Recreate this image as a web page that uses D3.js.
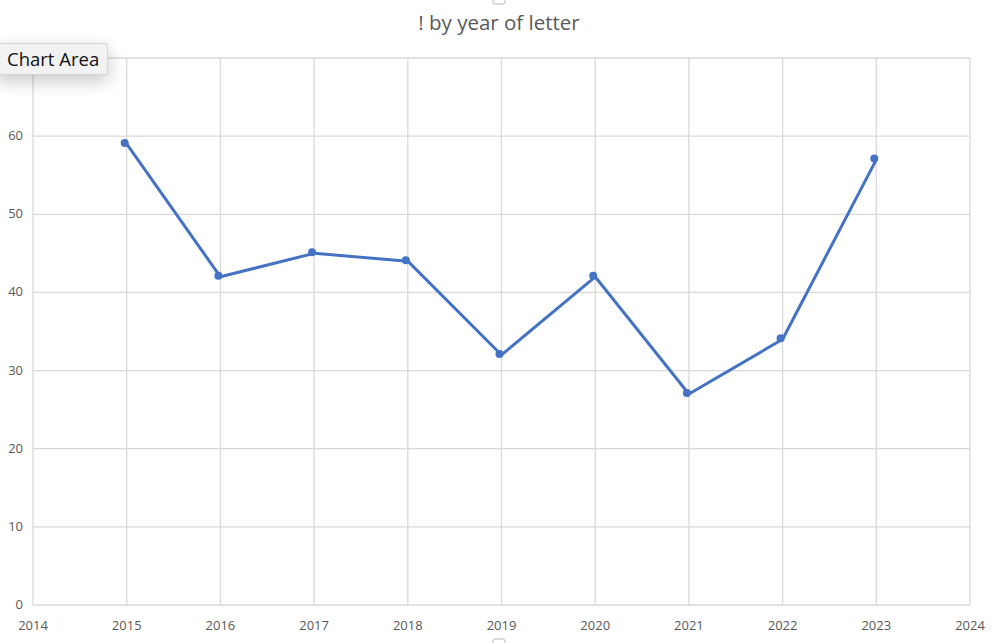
<!DOCTYPE html>
<html>
<head>
<meta charset="utf-8">
<script src="https://cdn.jsdelivr.net/npm/d3@7"></script>
<style>
  body { margin: 0; background: #fff; }
  #chart { width: 1000px; height: 643px; position: relative; }
  .tip {
    position: absolute; left: -4px; top: 43px; height: 30px; padding: 0 8px 0 10px;
    background: #f2f2f2; border: 1px solid #d4d4d4; border-radius: 2px;
    box-shadow: 0 6px 18px rgba(0,0,0,0.22);
    font: 18.5px "Open Sans", "Liberation Sans", sans-serif; line-height: 30px; color: #111;
  }
</style>
</head>
<body>
<div id="chart"></div>
<script>
const years = [2015, 2016, 2017, 2018, 2019, 2020, 2021, 2022, 2023];
const counts = [59, 42, 45, 44, 32, 42, 27, 34, 57];
const xTicks = [2014, 2015, 2016, 2017, 2018, 2019, 2020, 2021, 2022, 2023, 2024];
const yTicks = [0, 10, 20, 30, 40, 50, 60, 70];
const title = "! by year of letter";

const width = 1000, height = 643;
const margin = {top: 58, right: 30, bottom: 38, left: 33};

const svg = d3.select("#chart").append("svg")
    .attr("width", width)
    .attr("height", height);

const x = d3.scaleLinear().domain([2014, 2024]).range([margin.left, width - margin.right]);
const y = d3.scaleLinear().domain([0, 70]).range([height - margin.bottom, margin.top]);

// grid
svg.append("g").selectAll("line.h")
    .data(yTicks).enter().append("line")
    .attr("x1", margin.left).attr("x2", width - margin.right)
    .attr("y1", d => y(d)).attr("y2", d => y(d))
    .attr("stroke", "#d9d9d9").attr("stroke-width", 1.3);

svg.append("g").selectAll("line.v")
    .data(xTicks).enter().append("line")
    .attr("x1", d => x(d)).attr("x2", d => x(d))
    .attr("y1", margin.top).attr("y2", height - margin.bottom)
    .attr("stroke", "#d9d9d9").attr("stroke-width", 1.3);

// tick labels
svg.append("g").selectAll("text")
    .data(yTicks.filter(d => d < 70)).enter().append("text")
    .attr("x", margin.left - 10)
    .attr("y", d => y(d) + 4)
    .attr("text-anchor", "end")
    .attr("font-family", "'Open Sans', 'Liberation Sans', sans-serif")
    .attr("font-size", 13)
    .attr("fill", "#595959")
    .text(d => d);

svg.append("g").selectAll("text")
    .data(xTicks).enter().append("text")
    .attr("x", d => x(d))
    .attr("y", height - margin.bottom + 25)
    .attr("text-anchor", "middle")
    .attr("font-family", "'Open Sans', 'Liberation Sans', sans-serif")
    .attr("font-size", 13)
    .attr("fill", "#595959")
    .text(d => d);

// title
svg.append("text")
    .attr("x", width / 2 - 1)
    .attr("y", 30)
    .attr("text-anchor", "middle")
    .attr("font-family", "'Open Sans', 'Liberation Sans', sans-serif")
    .attr("font-size", 20.5)
    .attr("fill", "#595959")
    .text(title);

// selection handles
svg.append("rect").attr("x", 493).attr("y", -6).attr("width", 12).attr("height", 10)
    .attr("rx", 2).attr("fill", "#fff").attr("stroke", "#bbb");
svg.append("rect").attr("x", 493).attr("y", 639).attr("width", 12).attr("height", 10)
    .attr("rx", 2).attr("fill", "#fff").attr("stroke", "#bbb");

// series
const data = years.map((d, i) => ({year: d, value: counts[i]}));

const line = d3.line()
    .x(d => x(d.year))
    .y(d => y(d.value));

svg.append("path")
    .datum(data)
    .attr("fill", "none")
    .attr("stroke", "#4472c4")
    .attr("stroke-width", 3)
    .attr("stroke-linejoin", "round")
    .attr("d", line);

svg.append("g").selectAll("circle")
    .data(data).enter().append("circle")
    .attr("cx", d => x(d.year) - 2)
    .attr("cy", d => y(d.value) - 1)
    .attr("r", 4)
    .attr("fill", "#4472c4");

// tooltip
d3.select("#chart").append("div")
    .attr("class", "tip")
    .text("Chart Area");
</script>
</body>
</html>
